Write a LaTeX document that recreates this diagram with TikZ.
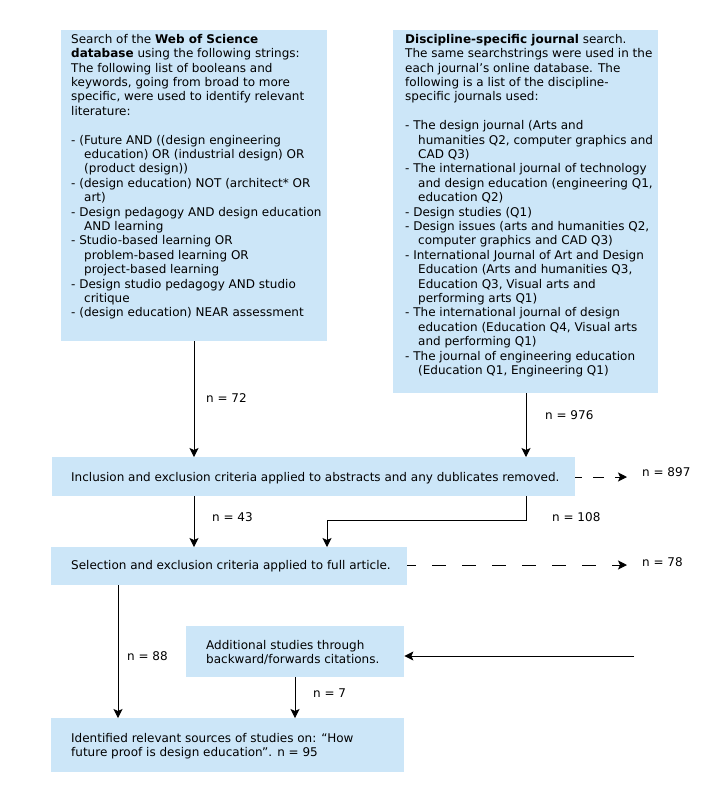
\documentclass[tikz,border=0pt]{standalone}
\usepackage{fontspec}
\setmainfont{DejaVu Sans}
\usetikzlibrary{arrows.meta,calc}
\definecolor{boxblue}{HTML}{CCE6F8}
\newcommand{\ind}{\hspace*{13pt}}
\begin{document}
\begin{tikzpicture}[x=1pt,y=-1pt,
  box/.style={fill=boxblue,draw=none,inner sep=0pt,anchor=north west},
  txt/.style={font=\fontsize{12}{14.4}\selectfont,align=left,inner sep=0pt,anchor=north west},
  ltxt/.style={txt,anchor=west},
  lbl/.style={font=\fontsize{12}{14.4}\selectfont,inner sep=0pt,anchor=west},
  arr/.style={-{Stealth[length=9pt,width=9pt,inset=2pt]},line width=1pt},
  dasharrC/.style={arr,dash pattern=on 11pt off 11pt,dash phase=4pt},
  dasharrD/.style={arr,dash pattern=on 14pt off 16pt,dash phase=5pt}
]
\useasboundingbox (0,0) rectangle (720,804);

% Box A
\node[box,minimum width=266pt,minimum height=311pt] (A) at (61,30) {};
\node[txt] (At) at ($(A.north west)+(10,4)$) {Search of the \textbf{Web of Science}\\
\textbf{database} using the following strings:\\
The following list of booleans and\\
keywords, going from broad to more\\
specific, were used to identify relevant\\
literature:\\
\mbox{}\\
- (Future AND ((design engineering\\
\ind education) OR (industrial design) OR\\
\ind (product design))\\
- (design education) NOT (architect* OR\\
\ind art)\\
- Design pedagogy AND design education\\
\ind AND learning\\
- Studio-based learning OR\\
\ind problem-based learning OR\\
\ind project-based learning\\
- Design studio pedagogy AND studio\\
\ind critique\\
- (design education) NEAR assessment};

% Box B
\node[box,minimum width=265pt,minimum height=363pt] (B) at (393,30) {};
\node[txt] (Bt) at ($(B.north west)+(12,4)$) {\textbf{Discipline-specific journal} search.\\
The same searchstrings were used in the\\
each journal’s online database. The\\
following is a list of the discipline-\\
specific journals used:\\
\mbox{}\\
- The design journal (Arts and\\
\ind humanities Q2, computer graphics and\\
\ind CAD Q3)\\
- The international journal of technology\\
\ind and design education (engineering Q1,\\
\ind education Q2)\\
- Design studies (Q1)\\
- Design issues (arts and humanities Q2,\\
\ind computer graphics and CAD Q3)\\
- International Journal of Art and Design\\
\ind Education (Arts and humanities Q3,\\
\ind Education Q3, Visual arts and\\
\ind performing arts Q1)\\
- The international journal of design\\
\ind education (Education Q4, Visual arts\\
\ind and performing Q1)\\
- The journal of engineering education\\
\ind (Education Q1, Engineering Q1)};

% Box C
\node[box,minimum width=523pt,minimum height=39pt] (C) at (52,457) {};
\node[ltxt] (Ct) at ($(C.west)+(19,1)$)
 {Inclusion and exclusion criteria applied to abstracts and any dublicates removed.};
% Box D
\node[box,minimum width=356pt,minimum height=38pt] (D) at (51,547) {};
\node[ltxt] (Dt) at ($(D.west)+(20,0)$)
 {Selection and exclusion criteria applied to full article.};
% Box E
\node[box,minimum width=218pt,minimum height=51pt] (E) at (186,626) {};
\node[ltxt] (Et) at ($(E.west)+(20,1)$)
 {Additional studies through\\backward/forwards citations.};
% Box F
\node[box,minimum width=353pt,minimum height=54pt] (F) at (51,718) {};
\node[ltxt] (Ft) at ($(F.west)+(20,1)$)
 {Identified relevant sources of studies on: “How\\future proof is design education”. n = 95};

% connectors
\coordinate (aa) at (194,341);
\draw[arr] (aa) -- (aa |- C.north);
\coordinate (bb) at (526,393);
\draw[arr] (bb) -- (bb |- C.north);
\draw[arr] (aa |- C.south) -- (aa |- D.north);
\coordinate (k1) at (526,520);
\coordinate (k2) at (327,520);
\draw[arr] (bb |- C.south) -- (k1) -- (k2) -- (k2 |- D.north);
\coordinate (cx) at (627,477);
\draw[dasharrC] (C.east |- cx) -- (cx);
\coordinate (dx) at (627,565);
\draw[dasharrD] (D.east |- dx) -- (dx);
\coordinate (ds) at (118,585);
\draw[arr] (ds) -- (ds |- F.north);
\coordinate (ein) at (634,656);
\draw[arr] (ein) -- (E.east |- ein);
\coordinate (es) at (295,677);
\draw[arr] (es) -- (es |- F.north);

% labels
\node[lbl] (l72) at (206,398) {n = 72};
\node[lbl] (l976) at (545,415) {n = 976};
\node[lbl] (l897) at (642,472) {n = 897};
\node[lbl] (l43) at (212,517) {n = 43};
\node[lbl] (l108) at (552,517) {n = 108};
\node[lbl] (l78) at (642,562) {n = 78};
\node[lbl] (l88) at (127,656) {n = 88};
\node[lbl] (l7) at (313,693) {n = 7};
\end{tikzpicture}
\end{document}
